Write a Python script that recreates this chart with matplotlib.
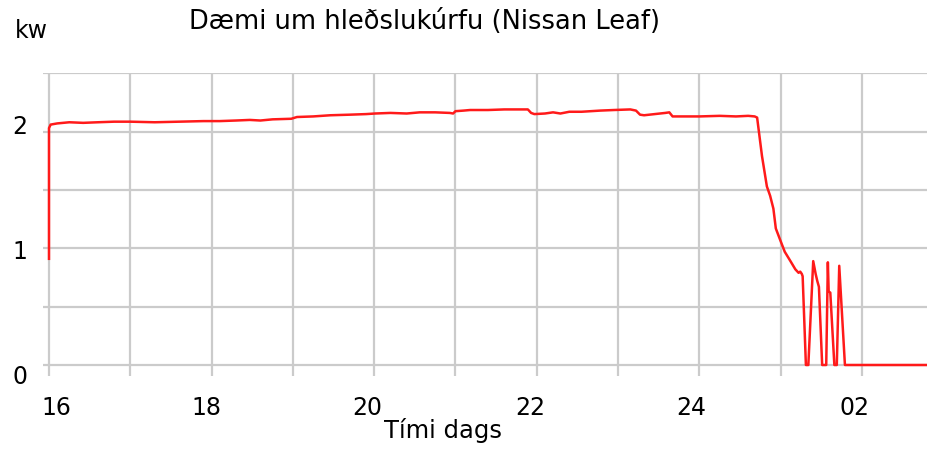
import matplotlib
matplotlib.use("Agg")
import matplotlib.pyplot as plt
from matplotlib.transforms import ScaledTranslation

# ---- data (hours since midnight, 24+ means after midnight) ----
time_h = [16.00, 16.00, 16.02, 16.10, 16.25, 16.42, 16.60, 16.80, 17.00, 17.30,
          17.60, 17.90, 18.10, 18.30, 18.47, 18.60, 18.75, 18.98, 19.05, 19.25,
          19.46, 19.70, 19.90, 20.01, 20.20, 20.40, 20.56, 20.75, 20.93, 20.97,
          21.00, 21.10, 21.18, 21.40, 21.60, 21.89, 21.93, 21.97, 22.10, 22.20,
          22.29, 22.40, 22.55, 22.78, 22.95, 23.15, 23.22, 23.27, 23.32, 23.45,
          23.58, 23.63, 23.67, 23.80, 24.00, 24.25, 24.45, 24.60, 24.68, 24.71,
          24.77, 24.83, 24.87, 24.91, 24.94, 25.00, 25.05, 25.12, 25.18, 25.22,
          25.24, 25.26, 25.27, 25.31, 25.34, 25.40, 25.43, 25.45, 25.47, 25.51,
          25.56, 25.58, 25.59, 25.61, 25.66, 25.69, 25.72, 25.79, 26.81]
power_kw = [0.91, 2.03, 2.06, 2.07, 2.08, 2.075, 2.08, 2.085, 2.085, 2.08,
            2.085, 2.09, 2.09, 2.095, 2.10, 2.095, 2.105, 2.11, 2.125, 2.13,
            2.14, 2.145, 2.15, 2.155, 2.16, 2.155, 2.165, 2.165, 2.16, 2.155,
            2.175, 2.18, 2.185, 2.185, 2.19, 2.19, 2.16, 2.15, 2.155, 2.165,
            2.155, 2.17, 2.17, 2.18, 2.185, 2.19, 2.18, 2.145, 2.14, 2.15,
            2.16, 2.165, 2.13, 2.13, 2.13, 2.135, 2.13, 2.135, 2.13, 2.12,
            1.79, 1.53, 1.45, 1.34, 1.17, 1.06, 0.97, 0.89, 0.82, 0.79,
            0.80, 0.78, 0.76, 0.0, 0.0, 0.89, 0.78, 0.72, 0.67, 0.0,
            0.0, 0.88, 0.63, 0.62, 0.0, 0.0, 0.85, 0.0, 0.0]

x_major = [16, 18, 20, 22, 24, 26]
x_labels = ["16", "18", "20", "22", "24", "02"]
x_minor = list(range(16, 27))
y_major = [0, 1, 2]
y_labels = ["0", "1", "2"]
y_minor = [0, 0.5, 1.0, 1.5, 2.0, 2.5]

title = "Dæmi um hleðslukúrfu (Nissan Leaf)"
y_unit = "kw"
x_title = "Tími dags"

# ---- layout (pixel based) ----
W, H = 928, 452
L, R, T, B = 43, 928, 74, 377
px_per_h = 81.3
px_per_kw = 116.7
x0_px = 49      # pixel of x=16
y0_px = 366     # pixel of y=0

fig = plt.figure(figsize=(W / 100, H / 100), dpi=100)
ax = fig.add_axes([L / W, 1 - B / H, (R - L) / W, (B - T) / H])

ax.plot(time_h, power_kw, color="#ff1a1a", lw=1.8, solid_joinstyle="round", zorder=3)

ax.set_xlim(16 - (x0_px - L) / px_per_h, 16 + (R - x0_px) / px_per_h)
ax.set_ylim(-(B - y0_px) / px_per_kw, (y0_px - T) / px_per_kw)

ax.set_xticks(x_major)
ax.set_xticklabels(x_labels)
ax.set_xticks(x_minor, minor=True)
ax.set_yticks(y_major)
ax.set_yticklabels(y_labels)
ax.set_yticks(y_minor, minor=True)

ax.grid(which="both", color="#cbcbcb", lw=1.6, zorder=0)
ax.tick_params(which="both", length=0)
ax.tick_params(axis="x", labelsize=17, pad=14)
ax.tick_params(axis="y", labelsize=17, pad=11)
for s in ax.spines.values():
    s.set_visible(False)

# small label offsets as in the reference (in pixels)
x_off = [7, -5, -7, -7, -8, -7]
for lab, dx in zip(ax.get_xticklabels(), x_off):
    lab.set_transform(lab.get_transform() + ScaledTranslation(dx / 100, 0, fig.dpi_scale_trans))
y_off = [-9, 0, 8]
for lab, dy in zip(ax.get_yticklabels(), y_off):
    lab.set_transform(lab.get_transform() + ScaledTranslation(0, dy / 100, fig.dpi_scale_trans))

fig.text(425 / W, 1 - 22 / H, title, ha="center", va="center", fontsize=18.5)
fig.text(31 / W, 1 - 31 / H, y_unit, ha="center", va="center", fontsize=17)
fig.text(443 / W, 1 - 431 / H, x_title, ha="center", va="center", fontsize=17.5)

fig.savefig("out.png", dpi=100)
